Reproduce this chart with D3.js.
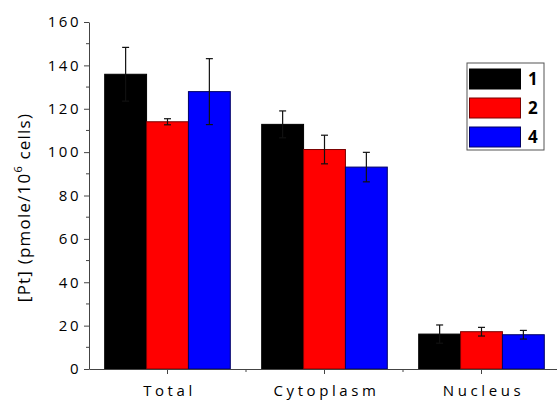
<!DOCTYPE html>
<html>
<head>
<meta charset="utf-8">
<script src="https://cdn.jsdelivr.net/npm/d3@7"></script>
<style>
  body { margin: 0; background: #fff; }
  text { font-family: "Open Sans", "Noto Sans", sans-serif; }
</style>
</head>
<body>
<div id="chart"></div>
<script>
var width = 557, height = 402
var margin = { top: 22, right: -3, bottom: 33, left: 89 }

// data
var categories = ["Total", "Cytoplasm", "Nucleus"]
var seriesNames = ["1", "2", "4"]
var seriesColors = ["#000000", "#ff0000", "#0000ff"]
var seriesStrokes = ["#000000", "#7a0000", "#000066"]
var values1 = [135.9, 112.8, 16.1]
var values2 = [114.0, 101.2, 17.2]
var values4 = [127.9, 93.1, 15.8]
var err1 = [12.4, 6.2, 4.2]
var err2 = [1.4, 6.6, 2.0]
var err4 = [15.2, 6.8, 2.0]
var yTicks = [0, 20, 40, 60, 80, 100, 120, 140, 160]

var values = [values1, values2, values4]
var errs = [err1, err2, err4]

var svg = d3.select("#chart")
  .append("svg")
  .attr("width", width)
  .attr("height", height)

var xScale = d3.scaleBand()
  .domain(categories)
  .range([margin.left, width - margin.right])
  .paddingInner(0.2)
  .paddingOuter(0.1)

var xInner = d3.scaleBand()
  .domain(seriesNames)
  .range([0, xScale.bandwidth()])

var yScale = d3.scaleLinear()
  .domain([0, 160])
  .range([height - margin.bottom, margin.top])

// bars
seriesNames.forEach(function(s, i) {
  svg.append("g")
    .selectAll("rect")
    .data(categories)
    .enter()
    .append("rect")
    .attr("x", d => xScale(d) + xInner(s))
    .attr("y", (d, j) => yScale(values[i][j]))
    .attr("width", xInner.bandwidth())
    .attr("height", (d, j) => yScale(0) - yScale(values[i][j]))
    .attr("fill", seriesColors[i])
    .attr("stroke", seriesStrokes[i])
    .attr("stroke-width", 1)
})

// error bars
seriesNames.forEach(function(s, i) {
  var g = svg.append("g").attr("stroke", "#111").attr("stroke-width", 1.2)
  categories.forEach(function(c, j) {
    var cx = xScale(c) + xInner(s) + xInner.bandwidth() / 2
    var hi = yScale(values[i][j] + errs[i][j])
    var lo = yScale(values[i][j] - errs[i][j])
    g.append("line").attr("x1", cx).attr("x2", cx).attr("y1", hi).attr("y2", lo)
    g.append("line").attr("x1", cx - 3.5).attr("x2", cx + 3.5).attr("y1", hi).attr("y2", hi)
    g.append("line").attr("x1", cx - 3.5).attr("x2", cx + 3.5).attr("y1", lo).attr("y2", lo)
  })
})

// y axis
var yAxis = d3.axisLeft(yScale)
  .tickValues(yTicks)
  .tickSize(5)
  .tickSizeOuter(0)
  .tickPadding(4)

var yG = svg.append("g")
  .attr("transform", `translate(${margin.left},0)`)
  .call(yAxis)
yG.select(".domain").attr("stroke", "#444")
yG.selectAll(".tick line").attr("stroke", "#444")
yG.selectAll(".tick text")
  .style("font-size", "15px")
  .style("letter-spacing", "2.5px")
  .attr("dx", 1)
  .attr("fill", "#000")

// minor y ticks
svg.append("g")
  .selectAll("line")
  .data(d3.range(10, 160, 20))
  .enter()
  .append("line")
  .attr("x1", margin.left - 3)
  .attr("x2", margin.left)
  .attr("y1", d => yScale(d))
  .attr("y2", d => yScale(d))
  .attr("stroke", "#444")

// x axis
var xAxis = d3.axisBottom(xScale)
  .tickSize(5)
  .tickSizeOuter(0)
  .tickPadding(11)

var xG = svg.append("g")
  .attr("transform", `translate(0,${yScale(0)})`)
  .call(xAxis)
xG.select(".domain").attr("stroke", "#444")
xG.selectAll(".tick line").attr("stroke", "#444")
xG.selectAll(".tick text")
  .style("font-size", "15px")
  .style("letter-spacing", "3.6px")
  .attr("dx", 2)
  .attr("fill", "#000")

// minor x ticks between categories
svg.append("g")
  .selectAll("line")
  .data(categories.slice(1))
  .enter()
  .append("line")
  .attr("x1", d => xScale(d) - xScale.step() * xScale.paddingInner() / 2)
  .attr("x2", d => xScale(d) - xScale.step() * xScale.paddingInner() / 2)
  .attr("y1", yScale(0))
  .attr("y2", yScale(0) + 3)
  .attr("stroke", "#444")

// y axis title
var yTitle = svg.append("text")
  .attr("transform", `translate(30,${(yScale(0) + yScale(160)) / 2 + 12}) rotate(-90)`)
  .attr("text-anchor", "middle")
  .style("font-size", "17px")
  .style("letter-spacing", "1.2px")
yTitle.append("tspan").text("[Pt] (pmole/10")
yTitle.append("tspan").attr("dy", -8).style("font-size", "11px").text("6")
yTitle.append("tspan").attr("dy", 8).text(" cells)")

// legend
var legend = svg.append("g").attr("transform", "translate(467,63)")
legend.append("rect")
  .attr("width", 77)
  .attr("height", 87)
  .attr("fill", "#fff")
  .attr("stroke", "#555")

seriesNames.forEach(function(s, i) {
  legend.append("rect")
    .attr("x", 2.5)
    .attr("y", 6 + i * 29)
    .attr("width", 51)
    .attr("height", 20)
    .attr("fill", seriesColors[i])
    .attr("stroke", seriesStrokes[i])
  legend.append("text")
    .attr("x", 61)
    .attr("y", 22 + i * 29)
    .style("font-size", "17px")
    .style("font-weight", "bold")
    .text(s)
})
</script>
</body>
</html>
